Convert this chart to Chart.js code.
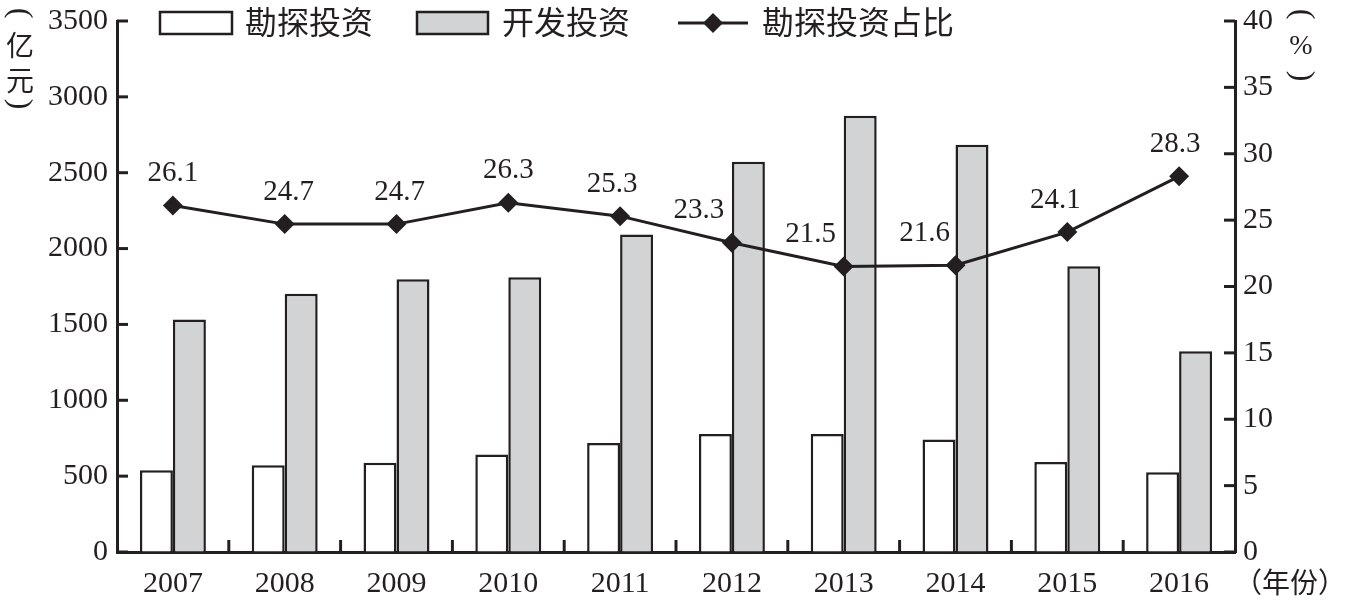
<!DOCTYPE html>
<html>
<head>
<meta charset="utf-8">
<script src="https://cdn.jsdelivr.net/npm/chart.js@4"></script>
<style>
body { margin: 0; background: #fff; }
#wrap { width: 1345px; height: 600px; }
</style>
</head>
<body>
<div id="wrap"><canvas id="myChart"></canvas></div>
<script>
// 年份
var years = ['2007', '2008', '2009', '2010', '2011', '2012', '2013', '2014', '2015', '2016'];
// 勘探投资（亿元）
var explore = [539, 572, 588, 643, 719, 778, 778, 741, 594, 526];
// 开发投资（亿元）
var develop = [1533, 1702, 1798, 1811, 2092, 2572, 2875, 2684, 1884, 1324];
// 勘探投资占比（%）
var ratio = [26.1, 24.7, 24.7, 26.3, 25.3, 23.3, 21.5, 21.6, 24.1, 28.3];

var seriesNames = ['勘探投资', '开发投资', '勘探投资占比'];

var INK = '#231f20';
var GRAY = '#d1d3d4';
var NUM_FONT = '"Liberation Serif", "DejaVu Serif", serif';
var CJK_FONT = '"Noto Sans CJK SC", "Noto Sans", sans-serif';

// label shift along x for each point label (keeps them off the bars)
var labelShift = [0, 4, 3, 0, -8, -33, -33, -31, -12, -4];

function sideParen(ctx, ch, x, y) {
	// bracket turned a quarter so it reads as a vertical-text bracket
	ctx.save();
	ctx.translate(x, y);
	ctx.rotate(Math.PI / 2);
	ctx.font = '32px ' + NUM_FONT;
	ctx.textAlign = 'center';
	ctx.textBaseline = 'middle';
	ctx.fillText(ch, 0, 0);
	ctx.restore();
}

var extras = {
	id: 'extras',
	afterDraw: function(chart) {
		var ctx = chart.ctx;
		var area = chart.chartArea;
		var x = chart.scales.x, yl = chart.scales.yL, yr = chart.scales.yR;
		ctx.save();
		ctx.strokeStyle = INK;
		ctx.lineWidth = 3;

		// inward tick marks
		yl.ticks.forEach(function(t) {
			var py = yl.getPixelForValue(t.value);
			ctx.beginPath(); ctx.moveTo(area.left, py); ctx.lineTo(area.left + 11, py); ctx.stroke();
		});
		yr.ticks.forEach(function(t) {
			var py = yr.getPixelForValue(t.value);
			ctx.beginPath(); ctx.moveTo(area.right, py); ctx.lineTo(area.right - 11, py); ctx.stroke();
		});
		for (var i = 0; i < years.length - 1; i++) {
			var px = (x.getPixelForValue(i) + x.getPixelForValue(i + 1)) / 2;
			ctx.beginPath(); ctx.moveTo(px, area.bottom); ctx.lineTo(px, area.bottom - 12); ctx.stroke();
		}

		// point labels
		var meta = chart.getDatasetMeta(2);
		ctx.fillStyle = INK;
		ctx.font = '29px ' + NUM_FONT;
		ctx.textAlign = 'center';
		ctx.textBaseline = 'middle';
		meta.data.forEach(function(pt, i) {
			ctx.fillText(ratio[i].toFixed(1), pt.x + labelShift[i], pt.y - 32);
		});

		// axis titles
		sideParen(ctx, '(', 19, 13);
		sideParen(ctx, ')', 19, 104);
		sideParen(ctx, '(', 1301, 14);
		sideParen(ctx, ')', 1301, 76);
		ctx.font = '28px ' + CJK_FONT;
		ctx.fillText('亿', 20, 45);
		ctx.fillText('元', 20, 80);
		ctx.font = '28px ' + NUM_FONT;
		ctx.fillText('%', 1301, 47);
		ctx.font = '28px ' + CJK_FONT;
		ctx.textAlign = 'left';
		ctx.fillText('（年份）', 1234, 582);

		// legend
		ctx.lineWidth = 2.5;
		ctx.font = '32px ' + CJK_FONT;
		ctx.fillStyle = '#fff';
		ctx.fillRect(160, 12, 72, 22); ctx.strokeRect(160, 12, 72, 22);
		ctx.fillStyle = INK;
		ctx.fillText(seriesNames[0], 245, 22);
		ctx.fillStyle = GRAY;
		ctx.fillRect(417, 12, 71, 22); ctx.strokeRect(417, 12, 71, 22);
		ctx.fillStyle = INK;
		ctx.fillText(seriesNames[1], 502, 22);
		ctx.lineWidth = 3;
		ctx.beginPath(); ctx.moveTo(678, 23); ctx.lineTo(748, 23); ctx.stroke();
		ctx.beginPath();
		ctx.moveTo(713, 13); ctx.lineTo(723, 23); ctx.lineTo(713, 33); ctx.lineTo(703, 23);
		ctx.closePath(); ctx.fill();
		ctx.fillText(seriesNames[2], 762, 22);
		ctx.restore();
	}
};

function plain(v) { return String(v); }
function noPadY(s, w) { s.width = w; s.paddingTop = 0; s.paddingBottom = 0; }

var config = {
	type: 'bar',
	data: {
		labels: years,
		datasets: [{
			label: seriesNames[0],
			data: explore,
			backgroundColor: '#ffffff',
			borderColor: INK,
			borderWidth: 2.5,
			yAxisID: 'yL',
			order: 1
		}, {
			label: seriesNames[1],
			data: develop,
			backgroundColor: GRAY,
			borderColor: INK,
			borderWidth: 2.5,
			yAxisID: 'yL',
			order: 1
		}, {
			type: 'line',
			label: seriesNames[2],
			data: ratio,
			borderColor: INK,
			backgroundColor: INK,
			borderWidth: 3,
			pointStyle: 'rectRot',
			pointRadius: 10,
			pointBorderWidth: 0,
			tension: 0,
			yAxisID: 'yR',
			order: 0
		}]
	},
	options: {
		responsive: true,
		maintainAspectRatio: false,
		animation: false,
		layout: { padding: { top: 21, left: 0, right: 0, bottom: 0 } },
		datasets: { bar: { categoryPercentage: 0.59, barPercentage: 1 } },
		plugins: { legend: { display: false }, tooltip: { enabled: false } },
		scales: {
			x: {
				grid: { drawOnChartArea: false, drawTicks: false },
				border: { display: true, color: INK, width: 3 },
				ticks: { color: INK, font: { family: NUM_FONT, size: 30 }, padding: 14, maxRotation: 0 },
				afterFit: function(s) { s.height = 48; s.paddingLeft = 0; s.paddingRight = 0; }
			},
			yL: {
				position: 'left',
				min: 0, max: 3500,
				grid: { drawOnChartArea: false, drawTicks: false },
				border: { display: true, color: INK, width: 3 },
				ticks: { stepSize: 500, color: INK, font: { family: NUM_FONT, size: 30 }, padding: 9, callback: plain },
				afterFit: function(s) { noPadY(s, 117); }
			},
			yR: {
				position: 'right',
				min: 0, max: 40,
				grid: { drawOnChartArea: false, drawTicks: false },
				border: { display: true, color: INK, width: 3 },
				ticks: { stepSize: 5, color: INK, font: { family: NUM_FONT, size: 30 }, padding: 8, callback: plain },
				afterFit: function(s) { noPadY(s, 110); }
			}
		}
	},
	plugins: [extras]
};

var ctx = document.getElementById('myChart').getContext('2d');
window.myChart = new Chart(ctx, config);
</script>
</body>
</html>
